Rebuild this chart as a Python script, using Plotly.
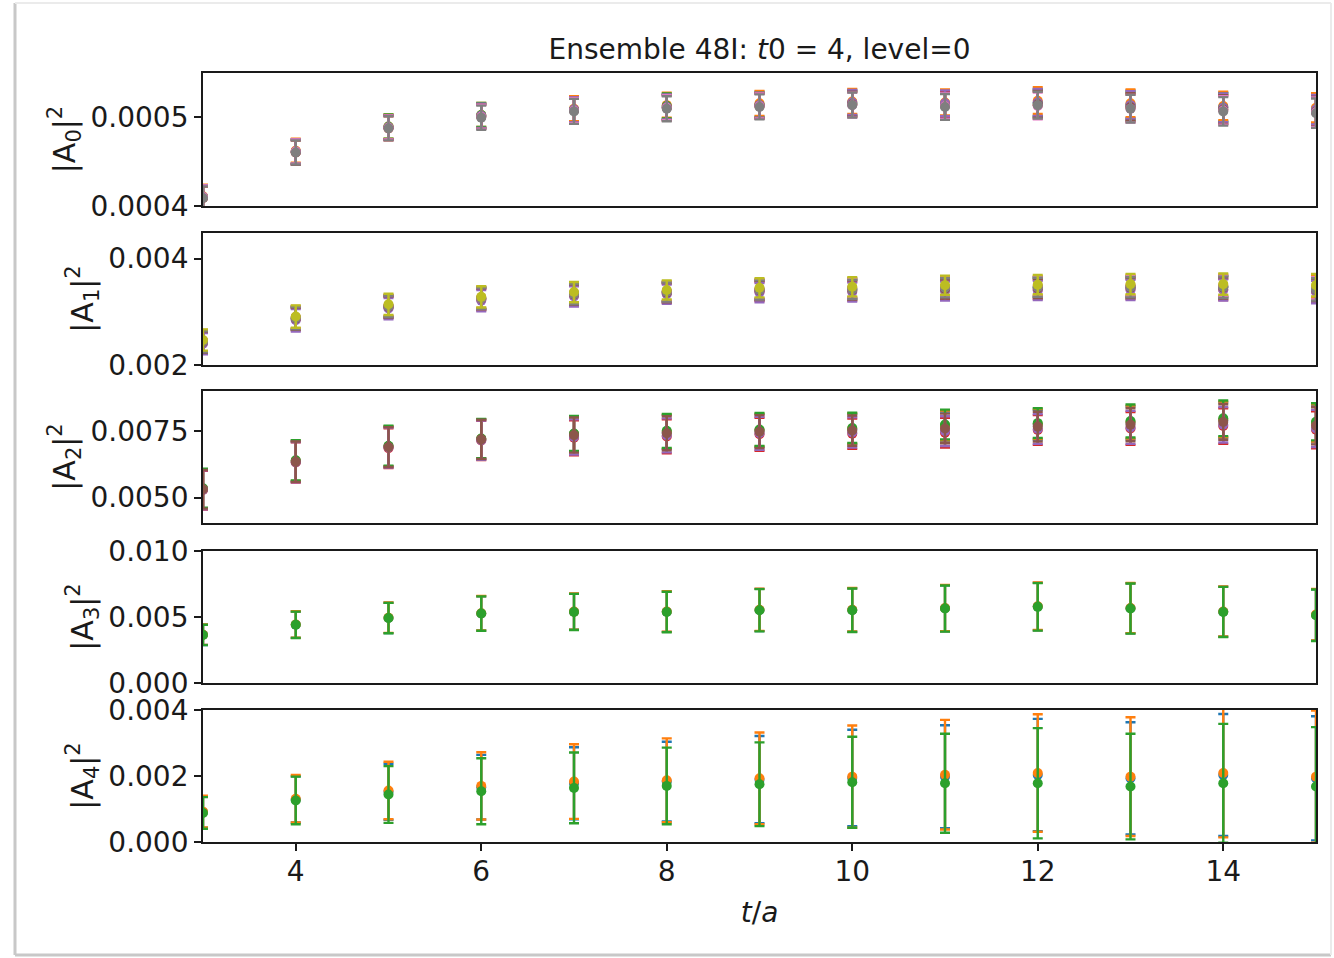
import plotly.graph_objects as go
from plotly.subplots import make_subplots

# ---------------- data ----------------
t = [3, 4, 5, 6, 7, 8, 9, 10, 11, 12, 13, 14, 15]

# |A0|^2 values in units of 1e-4
A0_unit = 1e-4
A0_C0 = [4.10, 4.61, 4.88, 5.01, 5.08, 5.11, 5.14, 5.16, 5.15, 5.16, 5.14, 5.11, 5.09]
A0_C1 = [4.11, 4.62, 4.89, 5.02, 5.09, 5.13, 5.15, 5.17, 5.16, 5.18, 5.15, 5.12, 5.10]
A0_C2 = [4.10, 4.61, 4.89, 5.02, 5.08, 5.12, 5.13, 5.15, 5.14, 5.15, 5.12, 5.10, 5.07]
A0_C3 = [4.09, 4.60, 4.87, 5.00, 5.07, 5.10, 5.12, 5.14, 5.13, 5.13, 5.10, 5.08, 5.05]
A0_C4 = [4.10, 4.61, 4.88, 5.01, 5.08, 5.11, 5.13, 5.16, 5.15, 5.16, 5.13, 5.10, 5.08]
A0_C5 = [4.09, 4.60, 4.88, 5.00, 5.07, 5.10, 5.12, 5.14, 5.12, 5.14, 5.11, 5.08, 5.06]
A0_C6 = [4.10, 4.61, 4.88, 5.00, 5.07, 5.10, 5.12, 5.13, 5.12, 5.12, 5.09, 5.07, 5.05]
A0_C7 = [4.09, 4.60, 4.87, 4.99, 5.06, 5.09, 5.11, 5.13, 5.11, 5.13, 5.09, 5.06, 5.04]
A0_err = [0.13, 0.135, 0.135, 0.135, 0.14, 0.14, 0.14, 0.14, 0.145, 0.15, 0.155, 0.16, 0.165]

# |A1|^2 values in units of 1e-3
A1_unit = 1e-3
A1_C0 = [2.45, 2.89, 3.11, 3.26, 3.34, 3.38, 3.42, 3.44, 3.46, 3.47, 3.48, 3.48, 3.45]
A1_C1 = [2.46, 2.90, 3.12, 3.27, 3.35, 3.39, 3.43, 3.45, 3.48, 3.49, 3.50, 3.50, 3.47]
A1_C2 = [2.44, 2.88, 3.10, 3.25, 3.33, 3.37, 3.41, 3.42, 3.45, 3.46, 3.47, 3.47, 3.43]
A1_C3 = [2.42, 2.86, 3.08, 3.23, 3.31, 3.35, 3.38, 3.39, 3.41, 3.42, 3.43, 3.42, 3.38]
A1_C4 = [2.40, 2.84, 3.06, 3.21, 3.29, 3.33, 3.36, 3.37, 3.39, 3.40, 3.41, 3.41, 3.37]
A1_C5 = [2.43, 2.87, 3.09, 3.24, 3.32, 3.36, 3.40, 3.41, 3.43, 3.44, 3.45, 3.45, 3.41]
A1_C6 = [2.45, 2.89, 3.11, 3.25, 3.34, 3.38, 3.42, 3.43, 3.46, 3.47, 3.48, 3.48, 3.44]
A1_C7 = [2.44, 2.88, 3.10, 3.25, 3.33, 3.37, 3.41, 3.42, 3.45, 3.46, 3.46, 3.46, 3.42]
A1_C8 = [2.47, 2.91, 3.14, 3.28, 3.37, 3.41, 3.45, 3.47, 3.50, 3.51, 3.52, 3.52, 3.50]
A1_err = [0.20, 0.21, 0.20, 0.20, 0.19, 0.18, 0.18, 0.18, 0.18, 0.18, 0.19, 0.20, 0.21]

# |A2|^2 values in units of 1e-3
A2_unit = 1e-3
A2_C0 = [5.32, 6.37, 6.92, 7.20, 7.38, 7.46, 7.52, 7.57, 7.68, 7.74, 7.81, 7.91, 7.78]
A2_C1 = [5.33, 6.38, 6.93, 7.21, 7.39, 7.48, 7.54, 7.60, 7.71, 7.77, 7.84, 7.94, 7.81]
A2_C2 = [5.35, 6.40, 6.95, 7.22, 7.41, 7.51, 7.56, 7.62, 7.75, 7.80, 7.88, 7.98, 7.85]
A2_C3 = [5.28, 6.32, 6.86, 7.15, 7.25, 7.30, 7.38, 7.40, 7.44, 7.54, 7.60, 7.69, 7.55]
A2_C4 = [5.29, 6.33, 6.88, 7.16, 7.28, 7.34, 7.42, 7.45, 7.50, 7.58, 7.64, 7.74, 7.60]
A2_C5 = [5.31, 6.35, 6.90, 7.19, 7.35, 7.42, 7.48, 7.52, 7.60, 7.67, 7.74, 7.84, 7.70]
A2_err = [0.73, 0.76, 0.75, 0.74, 0.66, 0.64, 0.62, 0.57, 0.56, 0.56, 0.62, 0.67, 0.70]

# |A3|^2 values in units of 1e-3
A3_unit = 1e-3
A3_C0 = [3.65, 4.42, 4.93, 5.27, 5.40, 5.40, 5.53, 5.53, 5.66, 5.79, 5.66, 5.40, 5.15]
A3_C1 = [3.66, 4.43, 4.95, 5.29, 5.41, 5.42, 5.55, 5.55, 5.68, 5.81, 5.68, 5.42, 5.18]
A3_C2 = [3.64, 4.41, 4.92, 5.26, 5.38, 5.38, 5.51, 5.51, 5.64, 5.77, 5.64, 5.38, 5.13]
A3_err = [0.77, 1.00, 1.15, 1.30, 1.37, 1.53, 1.60, 1.65, 1.75, 1.80, 1.90, 1.90, 1.95]

# |A4|^2 values in units of 1e-3
A4_unit = 1e-3
A4_C0 = [0.90, 1.29, 1.52, 1.66, 1.78, 1.83, 1.89, 1.94, 1.98, 2.03, 1.93, 2.03, 1.93]
A4_C1 = [0.92, 1.31, 1.56, 1.70, 1.83, 1.87, 1.93, 1.98, 2.04, 2.09, 1.98, 2.09, 1.98]
A4_C2 = [0.88, 1.26, 1.44, 1.54, 1.64, 1.70, 1.75, 1.81, 1.78, 1.78, 1.68, 1.78, 1.68]
A4_err_C0 = [0.47, 0.70, 0.85, 0.98, 1.09, 1.21, 1.32, 1.46, 1.56, 1.70, 1.70, 1.85, 1.88]
A4_err_C1 = [0.48, 0.72, 0.87, 1.02, 1.13, 1.27, 1.39, 1.55, 1.66, 1.78, 1.80, 1.95, 2.00]
A4_err_C2 = [0.48, 0.72, 0.86, 1.00, 1.07, 1.16, 1.27, 1.38, 1.50, 1.67, 1.60, 1.80, 1.80]

y_labels = ["|A<sub>0</sub>|<sup>2</sup>", "|A<sub>1</sub>|<sup>2</sup>", "|A<sub>2</sub>|<sup>2</sup>",
            "|A<sub>3</sub>|<sup>2</sup>", "|A<sub>4</sub>|<sup>2</sup>"]
y_tickvals = [[0.0004, 0.0005], [0.002, 0.004], [0.005, 0.0075], [0.0, 0.005, 0.010], [0.0, 0.002, 0.004]]
y_ticktext = [["0.0004", "0.0005"], ["0.002", "0.004"], ["0.0050", "0.0075"],
              ["0.000", "0.005", "0.010"], ["0.000", "0.002", "0.004"]]
y_ranges = [[0.0004, 0.000549], [0.002, 0.00448], [0.00404, 0.00901], [0.0, 0.0100], [0.0, 0.0040]]
x_tickvals = [4, 6, 8, 10, 12, 14]
title_text = "Ensemble 48I: <i>t</i>0 = 4, level=0"
x_title = "<i>t</i>/<i>a</i>"

# ---------------- styling ----------------
TAB = {"C0": "#1f77b4", "C1": "#ff7f0e", "C2": "#2ca02c", "C3": "#d62728", "C4": "#9467bd",
       "C5": "#8c564b", "C6": "#e377c2", "C7": "#7f7f7f", "C8": "#bcbd22", "C9": "#17becf"}
FONT = "DejaVu Sans"
FS = 28
FS_YT = 30
INK = "#1a1a1a"
W, H = 1334, 958
ML, MR, MT, MB = 203, 18, 73, 116
panel_px = [(73, 206), (233, 365), (391, 523), (551, 683), (710, 842)]
plot_h = H - MT - MB
domains = [[(H - MB - b) / plot_h, (H - MB - tp) / plot_h] for tp, b in panel_px]

panels = [
    (A0_unit, [("C0", A0_C0, A0_err), ("C1", A0_C1, A0_err), ("C2", A0_C2, A0_err), ("C3", A0_C3, A0_err),
               ("C4", A0_C4, A0_err), ("C5", A0_C5, A0_err), ("C6", A0_C6, A0_err), ("C7", A0_C7, A0_err)]),
    (A1_unit, [("C0", A1_C0, A1_err), ("C1", A1_C1, A1_err), ("C2", A1_C2, A1_err), ("C3", A1_C3, A1_err),
               ("C4", A1_C4, A1_err), ("C5", A1_C5, A1_err), ("C6", A1_C6, A1_err), ("C7", A1_C7, A1_err),
               ("C8", A1_C8, A1_err)]),
    (A2_unit, [("C0", A2_C0, A2_err), ("C1", A2_C1, A2_err), ("C2", A2_C2, A2_err), ("C3", A2_C3, A2_err),
               ("C4", A2_C4, A2_err), ("C5", A2_C5, A2_err)]),
    (A3_unit, [("C0", A3_C0, A3_err), ("C1", A3_C1, A3_err), ("C2", A3_C2, A3_err)]),
    (A4_unit, [("C0", A4_C0, A4_err_C0), ("C1", A4_C1, A4_err_C1), ("C2", A4_C2, A4_err_C2)]),
]

fig = make_subplots(rows=5, cols=1, shared_xaxes=True, vertical_spacing=0.03)

for r, (unit, series) in enumerate(panels, start=1):
    for cname, vals, errs in series:
        col = TAB[cname]
        fig.add_trace(go.Scatter(
            x=t, y=[v * unit for v in vals], mode="markers",
            marker=dict(color=col, size=10),
            error_y=dict(type="data", array=[e * unit for e in errs], visible=True,
                         color=col, thickness=2.4, width=5),
            showlegend=False, cliponaxis=True,
        ), row=r, col=1)

axis_line = dict(showline=True, linecolor=INK, linewidth=1.8, mirror=True,
                 showgrid=False, zeroline=False)

for r in range(1, 6):
    i = r - 1
    fig.update_yaxes(
        domain=domains[i], range=y_ranges[i], tickvals=y_tickvals[i], ticktext=y_ticktext[i],
        ticks="outside", ticklen=7, tickwidth=1.6, tickcolor=INK,
        tickfont=dict(family=FONT, size=FS, color=INK),
        title=dict(text=y_labels[i], font=dict(family=FONT, size=FS_YT, color=INK), standoff=6),
        **axis_line, row=r, col=1)
    if r < 5:
        fig.update_xaxes(range=[3, 15], showticklabels=False, ticks="", **axis_line, row=r, col=1)
    else:
        fig.update_xaxes(range=[3, 15], tickvals=x_tickvals, ticks="outside", ticklen=7, tickwidth=1.6,
                         tickcolor=INK, tickfont=dict(family=FONT, size=FS, color=INK),
                         ticklabelstandoff=-4,
                         title=dict(text=x_title, font=dict(family=FONT, size=FS, color=INK), standoff=16),
                         **axis_line, row=r, col=1)

# faint frame around the picture (as in the reference screenshot)
def px_x(px):
    return (px - ML) / (W - ML - MR)

def px_y(py):
    return (H - MB - py) / plot_h

fig.add_shape(type="line", xref="paper", yref="paper", x0=px_x(15), x1=px_x(15), y0=px_y(3), y1=px_y(955),
              line=dict(color="#c8c8c8", width=3))
fig.add_shape(type="line", xref="paper", yref="paper", x0=px_x(15), x1=px_x(1331), y0=px_y(955), y1=px_y(955),
              line=dict(color="#c8c8c8", width=3))
fig.add_shape(type="line", xref="paper", yref="paper", x0=px_x(15), x1=px_x(1331), y0=px_y(3), y1=px_y(3),
              line=dict(color="#ebebeb", width=2))
fig.add_shape(type="line", xref="paper", yref="paper", x0=px_x(1331), x1=px_x(1331), y0=px_y(3), y1=px_y(955),
              line=dict(color="#ebebeb", width=2))

fig.update_layout(
    width=W, height=H, margin=dict(l=ML, r=MR, t=MT, b=MB),
    paper_bgcolor="white", plot_bgcolor="white",
    font=dict(family=FONT, size=FS, color=INK),
    title=dict(text=title_text, x=759.5 / W, xanchor="center", y=1 - 49 / H, yanchor="middle",
               font=dict(family=FONT, size=FS, color=INK)),
    showlegend=False,
)

fig.write_html("out.html")
